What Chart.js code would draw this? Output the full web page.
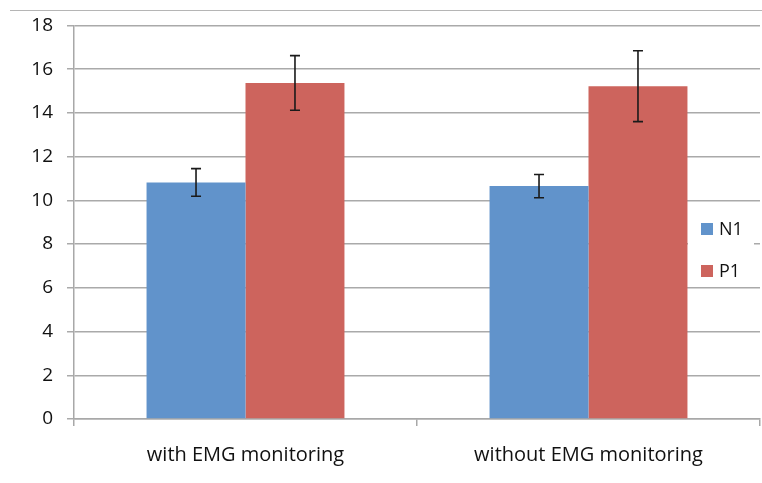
<!DOCTYPE html>
<html><head><meta charset="utf-8">
<script src="https://cdn.jsdelivr.net/npm/chart.js@4"></script>
<style>html,body{margin:0;padding:0;background:#fff}#wrap{width:762px;height:483px}</style>
</head><body><div id="wrap"><canvas id="c" width="762" height="483"></canvas></div>
<script>
const categories = ["with EMG monitoring", "without EMG monitoring"];
const seriesNames = ["N1", "P1"];
const n1Values = [10.82, 10.65];
const p1Values = [15.37, 15.22];
const n1Errors = [0.63, 0.53];
const p1Errors = [1.25, 1.62];
const yTicks = [0, 2, 4, 6, 8, 10, 12, 14, 16, 18];

const colors = ["#6193cb", "#cd645d"];
const FONT = "'Open Sans', Lato, sans-serif";

const errorBars = {
  id: 'errorBars',
  afterDatasetsDraw(chart) {
    const ctx = chart.ctx, y = chart.scales.y;
    const errs = [n1Errors, p1Errors];
    chart.data.datasets.forEach((ds, di) => {
      const meta = chart.getDatasetMeta(di);
      meta.data.forEach((bar, i) => {
        const v = ds.data[i], e = errs[di][i];
        const yt = y.getPixelForValue(v + e), yb = y.getPixelForValue(v - e);
        ctx.save();
        ctx.strokeStyle = "#1a1a1a"; ctx.lineWidth = 1.6;
        ctx.beginPath();
        ctx.moveTo(bar.x, yt); ctx.lineTo(bar.x, yb);
        ctx.moveTo(bar.x - 5, yt); ctx.lineTo(bar.x + 5, yt);
        ctx.moveTo(bar.x - 5, yb); ctx.lineTo(bar.x + 5, yb);
        ctx.stroke(); ctx.restore();
      });
    });
  }
};

const customLegend = {
  id: 'customLegend',
  beforeDraw(chart) {
    const ctx = chart.ctx;
    ctx.save();
    ctx.fillStyle = "#fff"; ctx.fillRect(0, 0, chart.width, chart.height);
    ctx.strokeStyle = "#b5b5b5"; ctx.lineWidth = 1;
    ctx.beginPath(); ctx.moveTo(10, 10.5); ctx.lineTo(762, 10.5); ctx.stroke();
    ctx.restore();
  },
  afterDraw(chart) {
    const ctx = chart.ctx;
    ctx.save();
    ctx.fillStyle = "#fff";
    ctx.fillRect(688, 208, 66, 72);
    ctx.font = "18px " + FONT;
    ctx.textBaseline = "middle";
    seriesNames.forEach((n, i) => {
      const cy = 229 + i * 42;
      ctx.fillStyle = colors[i];
      ctx.fillRect(701, cy - 6, 12, 12);
      ctx.fillStyle = "#111";
      ctx.fillText(n, 719, cy + 1);
    });
    ctx.restore();
  }
};

new Chart(document.getElementById('c'), {
  type: 'bar',
  data: {
    labels: categories,
    datasets: [
      { label: seriesNames[0], data: n1Values, backgroundColor: colors[0] },
      { label: seriesNames[1], data: p1Values, backgroundColor: colors[1] }
    ]
  },
  options: {
    responsive: false,
    animation: false,
    devicePixelRatio: 1,
    layout: { padding: { top: 23, right: 2, left: 0, bottom: 0 } },
    plugins: { legend: { display: false }, tooltip: { enabled: false } },
    datasets: { bar: { categoryPercentage: 0.577, barPercentage: 1.0 } },
    scales: {
      x: {
        grid: { display: true, drawOnChartArea: false, drawTicks: true, tickLength: 7, color: "#a8a8a8", lineWidth: 1.5, offset: true },
        border: { color: "#a8a8a8", width: 1.5 },
        ticks: { color: "#111", font: { family: FONT, size: 20 }, padding: 17 },
        afterFit(s) { s.height = 64; }
      },
      y: {
        min: 0, max: 18,
        afterBuildTicks(s) { s.ticks = yTicks.map(v => ({ value: v })); },
        grid: { color: "#aaaaaa", lineWidth: 1.5, tickLength: 7 },
        border: { color: "#a8a8a8", width: 1.5 },
        ticks: { color: "#111", font: { family: FONT, size: 19 }, padding: 14 },
        afterFit(s) { s.width = 74; }
      }
    }
  },
  plugins: [errorBars, customLegend]
});
</script></body></html>
